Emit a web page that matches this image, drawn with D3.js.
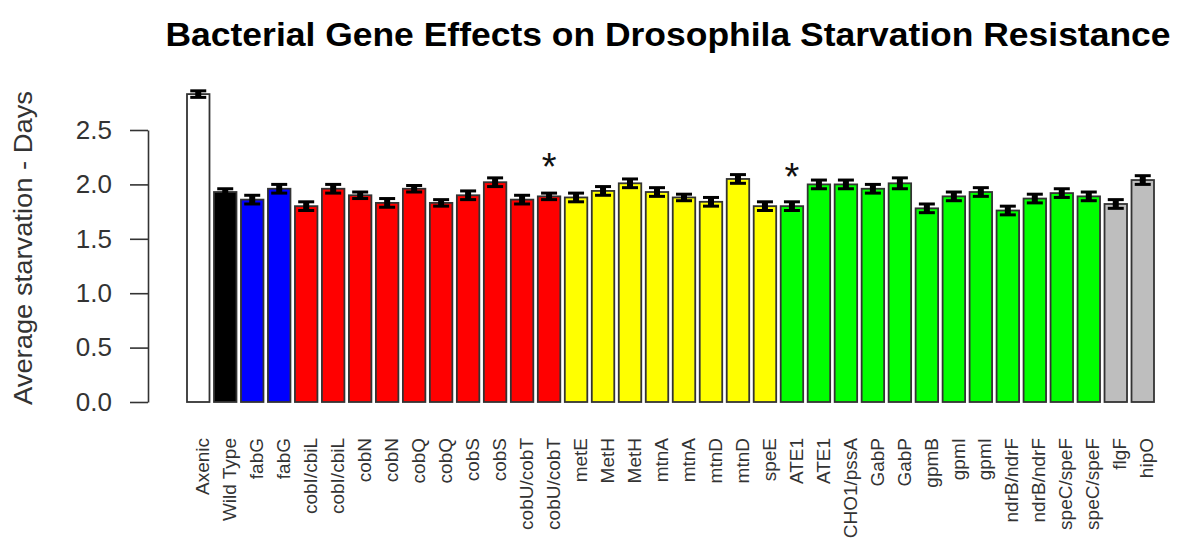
<!DOCTYPE html>
<html>
<head>
<meta charset="utf-8">
<script src="https://cdn.jsdelivr.net/npm/d3@7"></script>
<style>
  html, body { margin: 0; padding: 0; background: #fff; }
  svg { display: block; font-family: "Liberation Sans", Arial, sans-serif; }
</style>
</head>
<body>
<svg id="chart" width="1183" height="542"></svg>
<script>
// ---- data ----
const categories = ["Axenic", "Wild Type", "fabG", "fabG", "cobI/cbiL", "cobI/cbiL", "cobN", "cobN",
  "cobQ", "cobQ", "cobS", "cobS", "cobU/cobT", "cobU/cobT", "metE", "MetH", "MetH", "mtnA", "mtnA",
  "mtnD", "mtnD", "speE", "ATE1", "ATE1", "CHO1/pssA", "GabP", "GabP", "gpmB", "gpmI", "gpmI",
  "ndrB/ndrF", "ndrB/ndrF", "speC/speF", "speC/speF", "flgF", "hipO"];
const means = [2.83, 1.93, 1.86, 1.96, 1.80, 1.96, 1.90, 1.83, 1.96, 1.83, 1.90, 2.02, 1.86, 1.89,
  1.88, 1.94, 2.01, 1.93, 1.88, 1.84, 2.05, 1.80, 1.80, 2.00, 2.00, 1.96, 2.01, 1.78, 1.89, 1.93,
  1.76, 1.87, 1.92, 1.89, 1.82, 2.04];
const errors = [0.03, 0.03, 0.04, 0.04, 0.04, 0.04, 0.03, 0.04, 0.03, 0.03, 0.04, 0.04, 0.04, 0.03,
  0.04, 0.04, 0.04, 0.04, 0.03, 0.04, 0.04, 0.04, 0.04, 0.04, 0.04, 0.04, 0.05, 0.04, 0.04, 0.04,
  0.04, 0.04, 0.04, 0.04, 0.04, 0.04];
const groups = ["Axenic", "WT", "blue", "blue", "red", "red", "red", "red", "red", "red", "red", "red",
  "red", "red", "yellow", "yellow", "yellow", "yellow", "yellow", "yellow", "yellow", "yellow",
  "green", "green", "green", "green", "green", "green", "green", "green", "green", "green", "green",
  "green", "gray", "gray"];
const groupNames = ["Axenic", "WT", "blue", "red", "yellow", "green", "gray"];
const groupColors = ["#ffffff", "#000000", "#0000ff", "#ff0000", "#ffff00", "#00ff00", "#bebebe"];
const significant = [13, 22];   // indices marked with *
const yTicks = [0, 0.5, 1.0, 1.5, 2.0, 2.5];
const title = "Bacterial Gene Effects on Drosophila Starvation Resistance";
const yTitle = "Average starvation - Days";

// ---- drawing ----
const svg = d3.select("#chart");
const idx = d3.range(categories.length);

const x = d3.scaleBand().domain(idx).range([187, 1154]).paddingInner(1 / 6).paddingOuter(0);
const y = d3.scaleLinear().domain([0, 2.5]).range([402, 130]);
const color = d3.scaleOrdinal().domain(groupNames).range(groupColors);

// title
svg.append("text")
  .attr("x", 668).attr("y", 46)
  .attr("text-anchor", "middle")
  .attr("font-size", 33).attr("font-weight", "bold").attr("fill", "#000")
  .attr("textLength", 1005).attr("lengthAdjust", "spacingAndGlyphs")
  .text(title);

// y axis
const yAxis = svg.append("g")
  .attr("transform", "translate(148,0)")
  .call(d3.axisLeft(y).tickValues(yTicks).tickFormat(d3.format(".1f"))
    .tickSize(18).tickSizeOuter(0).tickPadding(18));
yAxis.select(".domain").attr("stroke", "#333").attr("stroke-width", 1.6);
yAxis.selectAll(".tick line").attr("stroke", "#333").attr("stroke-width", 1.6);
yAxis.selectAll(".tick text").attr("font-size", 26).attr("fill", "#333")
  .attr("font-family", "Liberation Sans, Arial, sans-serif");

// y title
svg.append("text")
  .attr("transform", "translate(32,248) rotate(-90)")
  .attr("text-anchor", "middle")
  .attr("font-size", 25).attr("fill", "#333")
  .attr("textLength", 314).attr("lengthAdjust", "spacingAndGlyphs")
  .text(yTitle);

// bars
svg.append("g").selectAll("rect").data(idx).join("rect")
  .attr("x", i => x(i))
  .attr("y", i => y(means[i]))
  .attr("width", x.bandwidth())
  .attr("height", i => y(0) - y(means[i]))
  .attr("fill", i => color(groups[i]))
  .attr("stroke", "#333").attr("stroke-width", 1.8);

// error bars
const eb = svg.append("g").attr("stroke", "#000").attr("stroke-width", 3);
idx.forEach(i => {
  const cx = x(i) + x.bandwidth() / 2;
  const yHi = y(means[i] + errors[i]), yLo = y(means[i] - errors[i]);
  eb.append("line").attr("x1", cx).attr("x2", cx).attr("y1", yHi).attr("y2", yLo).attr("stroke-width", 6);
  eb.append("line").attr("x1", cx - 8).attr("x2", cx + 8).attr("y1", yHi).attr("y2", yHi);
  eb.append("line").attr("x1", cx - 8).attr("x2", cx + 8).attr("y1", yLo).attr("y2", yLo);
});

// significance asterisks
svg.append("g").selectAll("text").data(significant).join("text")
  .attr("x", i => x(i) + x.bandwidth() / 2)
  .attr("y", i => y(means[i]) - 16)
  .attr("text-anchor", "middle")
  .attr("font-size", 38).attr("fill", "#111")
  .text("*");

// x labels
svg.append("g").selectAll("text").data(idx).join("text")
  .attr("transform", i => `translate(${x(i) + x.bandwidth() / 2 + 4},438) rotate(-90)`)
  .attr("text-anchor", "end")
  .attr("dy", "0.35em")
  .attr("font-size", 19).attr("fill", "#333")
  .text(i => categories[i]);
</script>
</body>
</html>
